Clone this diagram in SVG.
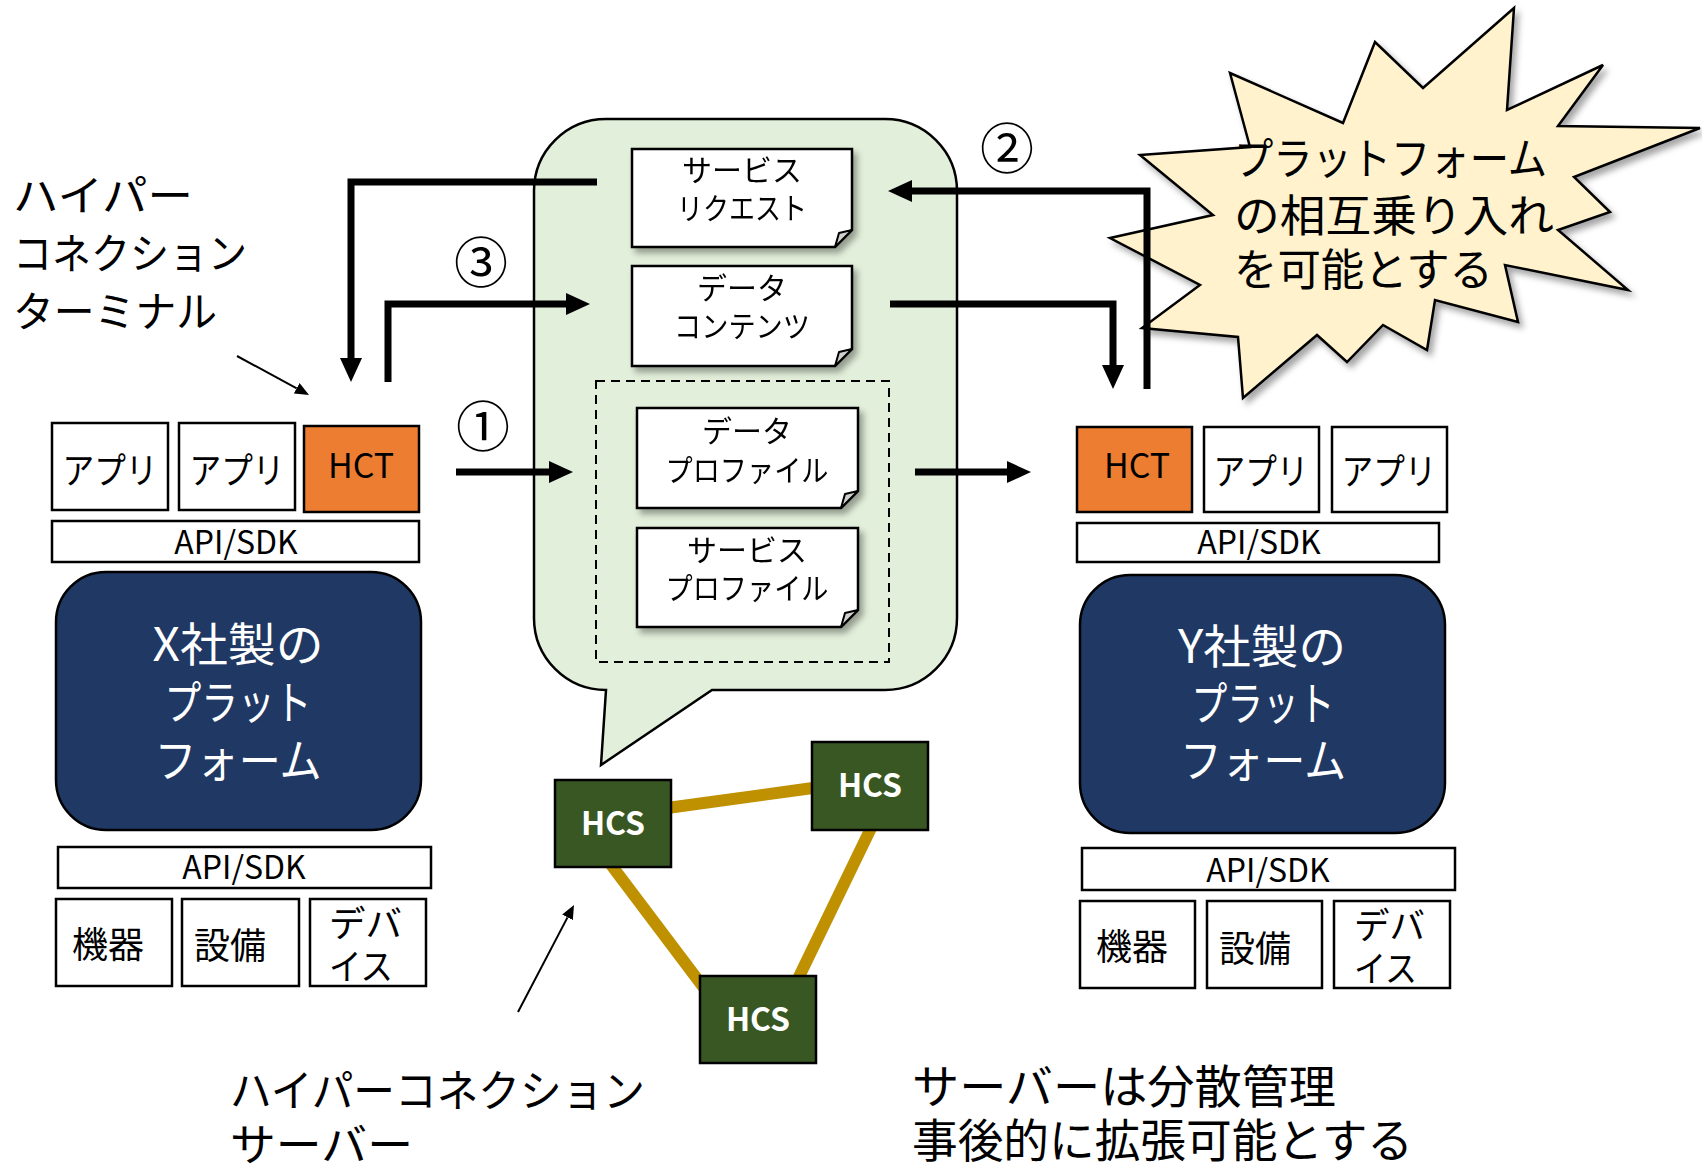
<svg xmlns="http://www.w3.org/2000/svg" width="1702" height="1168" viewBox="0 0 1702 1168">
<style>
text { font-family: "Noto Sans CJK JP", "Noto Sans", sans-serif; fill: #000; }
.box { fill: #fff; stroke: #000; stroke-width: 2.5; }
.hct { fill: #ED7D31; stroke: #000; stroke-width: 2.5; }
.plat { fill: #203864; stroke: #000; stroke-width: 2.5; }
.hcs { fill: #385723; stroke: #000; stroke-width: 2.5; }
.doc { fill: #fff; stroke: #000; stroke-width: 2.5; stroke-linejoin: miter; }
.fold { fill: #d0d0d0; stroke: #000; stroke-width: 2; stroke-linejoin: round; }
.thick { fill: none; stroke: #000; stroke-width: 7; stroke-linejoin: miter; }
.thin { fill: none; stroke: #000; stroke-width: 2; }
.link { stroke: #BF9000; stroke-width: 12; fill: none; }
.c { text-anchor: middle; }
.f36 { font-size: 36px; }
.f32 { font-size: 32px; }
.f30 { font-size: 30px; }
.f46w { font-size: 46px; fill: #fff; text-anchor: middle; }
.lbl { font-size: 42px; }
.num { font-size: 54px; text-anchor: middle; }
.hcst { font-size: 32px; font-weight: bold; fill: #fff; text-anchor: middle; }
</style>
<defs>
<filter id="sh" x="-10%" y="-10%" width="130%" height="130%">
<feDropShadow dx="4" dy="5" stdDeviation="3" flood-color="#000" flood-opacity="0.35"/>
</filter>
<marker id="ah" markerUnits="userSpaceOnUse" markerWidth="24" markerHeight="22" refX="0" refY="11" orient="auto">
<path d="M0,0 L24,11 L0,22 Z" fill="#000"/>
</marker>
<marker id="ahs" markerUnits="userSpaceOnUse" markerWidth="14" markerHeight="12" refX="0" refY="6" orient="auto">
<path d="M0,0 L14,6 L0,12 Z" fill="#000"/>
</marker>
</defs>

<g id="bubble">
<path d="M612,119 H885 A72,72 0 0 1 957,191 V618 A72,72 0 0 1 885,690 H712 L601,765 L606,690 A72,72 0 0 1 534,618 V191 A72,72 0 0 1 606,119 Z" fill="#E2EFDA" stroke="#000" stroke-width="2.5"/>
<rect x="596" y="381" width="293" height="281" fill="none" stroke="#000" stroke-width="2" stroke-dasharray="9,6"/>
</g>

<g id="doc-service-request" filter="url(#sh)">
<path class="doc" d="M632,149 H852 V230 L835,247 H632 Z"/>
<polygon class="fold" points="835,247 839,233 852,230"/>
<text class="f30 c" x="742" y="181">サービス</text>
<text class="f30 c" x="742" y="219" textLength="130" lengthAdjust="spacingAndGlyphs">リクエスト</text>
</g>
<g id="doc-data-contents" filter="url(#sh)">
<path class="doc" d="M632,266 H852 V349 L835,366 H632 Z"/>
<polygon class="fold" points="835,366 839,352 852,349"/>
<text class="f30 c" x="742" y="299">データ</text>
<text class="f30 c" x="742" y="337" textLength="136" lengthAdjust="spacingAndGlyphs">コンテンツ</text>
</g>
<g id="doc-data-profile" filter="url(#sh)">
<path class="doc" d="M637,408 H858 V491 L841,508 H637 Z"/>
<polygon class="fold" points="841,508 845,494 858,491"/>
<text class="f30 c" x="747" y="442">データ</text>
<text class="f30 c" x="747" y="481" textLength="163" lengthAdjust="spacingAndGlyphs">プロファイル</text>
</g>
<g id="doc-service-profile" filter="url(#sh)">
<path class="doc" d="M637,528 H858 V610 L841,627 H637 Z"/>
<polygon class="fold" points="841,627 845,613 858,610"/>
<text class="f30 c" x="747" y="561">サービス</text>
<text class="f30 c" x="747" y="599" textLength="163" lengthAdjust="spacingAndGlyphs">プロファイル</text>
</g>

<g id="starburst">
<polygon filter="url(#sh)" points="1514,8 1507,110 1603,65 1558,126 1700,128 1574,177 1610,212 1558,230 1628,290 1505,265 1518,322 1435,300 1427,350 1383,325 1347,362 1317,335 1243,398 1238,337 1142,328 1200,285 1110,238 1213,215 1140,155 1250,147 1230,73 1343,123 1375,42 1423,88" fill="#FFF2CC" stroke="#000" stroke-width="2.5" stroke-linejoin="miter"/>
<text x="1234" y="175" font-size="44" textLength="313" lengthAdjust="spacingAndGlyphs">プラットフォーム</text>
<text x="1234" y="232" font-size="44" textLength="320" lengthAdjust="spacingAndGlyphs">の相互乗り入れ</text>
<text x="1234" y="286" font-size="44" textLength="259" lengthAdjust="spacingAndGlyphs">を可能とする</text>
</g>

<g id="label-hct">
<text class="lbl" x="13" y="211" textLength="180" lengthAdjust="spacingAndGlyphs">ハイパー</text>
<text class="lbl" x="13" y="269" textLength="234" lengthAdjust="spacingAndGlyphs">コネクション</text>
<text class="lbl" x="13" y="327" textLength="204" lengthAdjust="spacingAndGlyphs">ターミナル</text>
</g>

<g id="x-platform">
<rect class="box" x="52" y="423" width="116" height="87"/>
<text class="f36 c" x="110" y="484" textLength="95" lengthAdjust="spacingAndGlyphs">アプリ</text>
<rect class="box" x="179" y="423" width="116" height="87"/>
<text class="f36 c" x="237" y="484" textLength="95" lengthAdjust="spacingAndGlyphs">アプリ</text>
<rect class="hct" x="304" y="426" width="115" height="86"/>
<text class="c" x="361" y="478" font-size="34">HCT</text>
<rect class="box" x="52" y="521" width="367" height="41"/>
<text class="f32 c" x="236" y="554">API/SDK</text>
<rect class="plat" x="56" y="572" width="365" height="258" rx="50"/>
<text class="f46w" x="238" y="661" textLength="171" lengthAdjust="spacingAndGlyphs">X社製の</text>
<text class="f46w" x="238" y="719" textLength="147" lengthAdjust="spacingAndGlyphs">プラット</text>
<text class="f46w" x="238" y="777" textLength="167" lengthAdjust="spacingAndGlyphs">フォーム</text>
<rect class="box" x="58" y="847" width="373" height="41"/>
<text class="f32 c" x="244" y="879">API/SDK</text>
<rect class="box" x="56" y="899" width="116" height="87"/>
<text class="f36 c" x="108" y="958">機器</text>
<rect class="box" x="182" y="899" width="117" height="87"/>
<text class="f36 c" x="230" y="959">設備</text>
<rect class="box" x="310" y="899" width="116" height="87"/>
<text class="f36" x="329" y="937" textLength="73" lengthAdjust="spacingAndGlyphs">デバ</text>
<text class="f36" x="329" y="980" textLength="64" lengthAdjust="spacingAndGlyphs">イス</text>
</g>

<g id="y-platform">
<rect class="hct" x="1077" y="427" width="115" height="85"/>
<text class="c" x="1137" y="478" font-size="34">HCT</text>
<rect class="box" x="1204" y="427" width="115" height="85"/>
<text class="f36 c" x="1261" y="485" textLength="95" lengthAdjust="spacingAndGlyphs">アプリ</text>
<rect class="box" x="1332" y="427" width="115" height="85"/>
<text class="f36 c" x="1389" y="485" textLength="95" lengthAdjust="spacingAndGlyphs">アプリ</text>
<rect class="box" x="1077" y="523" width="362" height="39"/>
<text class="f32 c" x="1259" y="554">API/SDK</text>
<rect class="plat" x="1080" y="575" width="365" height="258" rx="50"/>
<text class="f46w" x="1262" y="663" textLength="168" lengthAdjust="spacingAndGlyphs">Y社製の</text>
<text class="f46w" x="1263" y="720" textLength="143" lengthAdjust="spacingAndGlyphs">プラット</text>
<text class="f46w" x="1263" y="777" textLength="166" lengthAdjust="spacingAndGlyphs">フォーム</text>
<rect class="box" x="1082" y="848" width="373" height="42"/>
<text class="f32 c" x="1268" y="882">API/SDK</text>
<rect class="box" x="1080" y="901" width="115" height="87"/>
<text class="f36 c" x="1132" y="960">機器</text>
<rect class="box" x="1207" y="901" width="115" height="87"/>
<text class="f36 c" x="1255" y="962">設備</text>
<rect class="box" x="1334" y="901" width="116" height="87"/>
<text class="f36" x="1354" y="939" textLength="71" lengthAdjust="spacingAndGlyphs">デバ</text>
<text class="f36" x="1354" y="982" textLength="63" lengthAdjust="spacingAndGlyphs">イス</text>
</g>

<g id="hcs-links">
<line class="link" x1="660" y1="809" x2="820" y2="787"/>
<line class="link" x1="609" y1="862" x2="704" y2="988"/>
<line class="link" x1="873" y1="824" x2="795" y2="985"/>
</g>
<g id="hcs-1">
<rect class="hcs" x="555" y="780" width="116" height="87"/>
<text class="hcst" x="613" y="835">HCS</text>
</g>
<g id="hcs-2">
<rect class="hcs" x="812" y="742" width="116" height="88"/>
<text class="hcst" x="870" y="797">HCS</text>
</g>
<g id="hcs-3">
<rect class="hcs" x="700" y="976" width="116" height="87"/>
<text class="hcst" x="758" y="1031">HCS</text>
</g>

<g id="labels">
<text class="num" x="483" y="447">①</text>
<text class="num" x="1007" y="169">②</text>
<text class="num" x="481" y="283">③</text>
<text x="230" y="1107" font-size="44" textLength="415" lengthAdjust="spacingAndGlyphs">ハイパーコネクション</text>
<text x="230" y="1161" font-size="44" textLength="183" lengthAdjust="spacingAndGlyphs">サーバー</text>
<text x="912" y="1103" font-size="46" textLength="424" lengthAdjust="spacingAndGlyphs">サーバーは分散管理</text>
<text x="912" y="1157" font-size="46" textLength="501" lengthAdjust="spacingAndGlyphs">事後的に拡張可能とする</text>
</g>

<g id="connectors">
<path class="thick" d="M597,182 H351 V358" marker-end="url(#ah)"/>
<path class="thick" d="M388,382 V304 H566" marker-end="url(#ah)"/>
<path class="thick" d="M456,472 H549" marker-end="url(#ah)"/>
<path class="thick" d="M915,472 H1007" marker-end="url(#ah)"/>
<path class="thick" d="M1147,389 V191 H912" marker-end="url(#ah)"/>
<path class="thick" d="M890,304 H1113 V365" marker-end="url(#ah)"/>
<path class="thin" d="M237,356 L296.7,388.3" marker-end="url(#ahs)"/>
<path class="thin" d="M518,1012 L567.5,917.4" marker-end="url(#ahs)"/>
</g>
</svg>
